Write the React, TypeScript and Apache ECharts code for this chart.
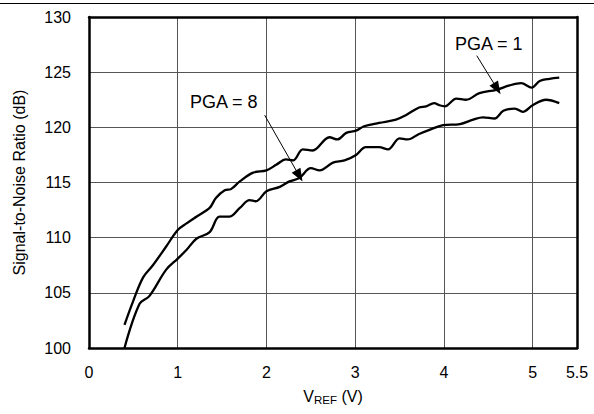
import React, { useEffect, useRef } from "react";
import * as echarts from "echarts";

// V_REF (V) samples and SNR (dB)
const pga1X = [0.4, 0.5, 0.61, 0.72, 0.87, 1.0, 1.1, 1.21, 1.36, 1.43, 1.53, 1.6, 1.7, 1.85, 2.0, 2.11, 2.22, 2.3, 2.41, 2.52, 2.71, 2.8, 2.9, 3.01, 3.1, 3.27, 3.46, 3.57, 3.72, 3.8, 3.89, 3.95, 4.01, 4.14, 4.25, 4.4, 4.59, 4.74, 4.87, 4.99, 5.08, 5.19, 5.3];
const pga1Y = [102.1, 104.3, 106.4, 107.5, 109.2, 110.7, 111.3, 111.9, 112.7, 113.6, 114.3, 114.4, 115.1, 115.9, 116.1, 116.6, 117.1, 117.0, 118.0, 117.9, 119.1, 118.9, 119.5, 119.7, 120.1, 120.4, 120.7, 121.1, 121.8, 121.9, 122.2, 122.0, 121.9, 122.6, 122.5, 123.1, 123.4, 123.8, 124.0, 123.6, 124.2, 124.4, 124.5];

const pga8X = [0.4, 0.57, 0.68, 0.87, 1.0, 1.1, 1.21, 1.36, 1.47, 1.58, 1.7, 1.81, 1.88, 2.0, 2.15, 2.26, 2.37, 2.5, 2.6, 2.75, 2.88, 3.01, 3.12, 3.27, 3.37, 3.5, 3.59, 3.72, 3.83, 3.99, 4.18, 4.33, 4.44, 4.57, 4.67, 4.8, 4.89, 5.0, 5.15, 5.3];
const pga8Y = [100.0, 104.0, 104.7, 107.1, 108.1, 108.9, 109.9, 110.5, 111.9, 111.9, 112.7, 113.4, 113.3, 114.2, 114.6, 115.1, 115.4, 116.3, 116.1, 116.8, 117.0, 117.5, 118.2, 118.2, 118.0, 119.0, 118.9, 119.4, 119.75, 120.2, 120.3, 120.7, 120.9, 120.8, 121.5, 121.7, 121.4, 122.0, 122.5, 122.2];

// annotation arrows: [start, tip] in data units
const arrowPga1 = [[4.37, 126.5], [4.6, 123.5]];
const arrowPga8 = [[1.98, 121.1], [2.37, 115.6]];
const labelPga1 = "PGA = 1";
const labelPga8 = "PGA = 8";

const xAxisName = "{v|V}{s|REF}{v| (V)}";
const yAxisName = "Signal-to-Noise Ratio (dB)";

const FONT = "Liberation Sans, Arial, sans-serif";

function zip(xs: number[], ys: number[]) {
  return xs.map((x, i) => [x, ys[i]]);
}

function arrow(a: number[][]) {
  return [[
    { coord: a[0], symbol: "none" },
    { coord: a[1], symbol: "triangle", symbolSize: [10, 13] },
  ]];
}

export default function App() {
  const ref = useRef<HTMLDivElement>(null);
  useEffect(() => {
    if (!ref.current) return;
    const chart = echarts.init(ref.current, undefined, { renderer: "svg" });
    const lineStyle = { color: "#000", width: 2.3 };
    const markLineBase = {
      silent: true,
      animation: false,
      label: { show: false },
      lineStyle: { color: "#000", width: 1, type: "solid" },
      emphasis: { disabled: true },
    };
    chart.setOption({
      animation: false,
      textStyle: { fontFamily: FONT, color: "#000" },
      grid: { left: 89, right: 17, top: 17, bottom: 66, containLabel: false },
      xAxis: [
        {
          type: "value",
          min: 0,
          max: 5.5,
          interval: 1,
          position: "bottom",
          axisLine: { show: true, onZero: false, lineStyle: { color: "#000", width: 2.5 } },
          axisTick: { show: false },
          axisLabel: { fontSize: 16, color: "#000", margin: 16, fontFamily: FONT },
          splitLine: { show: true, lineStyle: { color: "#555", width: 1 } },
          name: xAxisName,
          nameLocation: "middle",
          nameGap: 40,
          nameTextStyle: {
            rich: {
              v: { fontSize: 16, fontFamily: FONT, color: "#000", lineHeight: 18, verticalAlign: "top" },
              s: { fontSize: 11.5, fontFamily: FONT, color: "#000", lineHeight: 11, verticalAlign: "bottom" },
            },
          },
        },
        {
          type: "value",
          min: 0,
          max: 5.5,
          position: "top",
          axisLine: { show: true, onZero: false, lineStyle: { color: "#000", width: 2.5 } },
          axisTick: { show: false },
          axisLabel: { show: false },
          splitLine: { show: false },
        },
      ],
      yAxis: [
        {
          type: "value",
          min: 100,
          max: 130,
          interval: 5,
          position: "left",
          axisLine: { show: true, onZero: false, lineStyle: { color: "#000", width: 2.5 } },
          axisTick: { show: false },
          axisLabel: { fontSize: 16, color: "#000", margin: 18, fontFamily: FONT },
          splitLine: { show: true, lineStyle: { color: "#555", width: 1 } },
          name: yAxisName,
          nameLocation: "middle",
          nameGap: 62,
          nameTextStyle: { fontSize: 16, fontFamily: FONT, color: "#000" },
        },
        {
          type: "value",
          min: 100,
          max: 130,
          position: "right",
          axisLine: { show: true, onZero: false, lineStyle: { color: "#000", width: 2.5 } },
          axisTick: { show: false },
          axisLabel: { show: false },
          splitLine: { show: false },
        },
      ],
      series: [
        {
          name: labelPga1,
          type: "line",
          data: zip(pga1X, pga1Y),
          showSymbol: false,
          symbol: "none",
          smooth: 0.35,
          lineStyle,
          z: 3,
          markLine: { ...markLineBase, data: arrow(arrowPga1) },
        },
        {
          name: labelPga8,
          type: "line",
          data: zip(pga8X, pga8Y),
          showSymbol: false,
          symbol: "none",
          smooth: 0.35,
          lineStyle,
          z: 3,
          markLine: { ...markLineBase, data: arrow(arrowPga8) },
        },
      ],
      graphic: [
        {
          type: "line",
          shape: { x1: 0, y1: 3.5, x2: 594, y2: 3.5 },
          style: { stroke: "#000", lineWidth: 1 },
          silent: true,
        },
        {
          type: "text",
          x: 190,
          y: 102,
          style: { text: labelPga8, fontSize: 18, fontFamily: FONT, fill: "#000", verticalAlign: "middle", align: "left" },
          silent: true,
        },
        {
          type: "text",
          x: 455,
          y: 44,
          style: { text: labelPga1, fontSize: 18, fontFamily: FONT, fill: "#000", verticalAlign: "middle", align: "left" },
          silent: true,
        },
      ],
    });
    return () => chart.dispose();
  }, []);
  return (
    <div
      ref={ref}
      style={{ position: "fixed", left: 0, top: 0, width: 594, height: 414, background: "#fff" }}
    />
  );
}
